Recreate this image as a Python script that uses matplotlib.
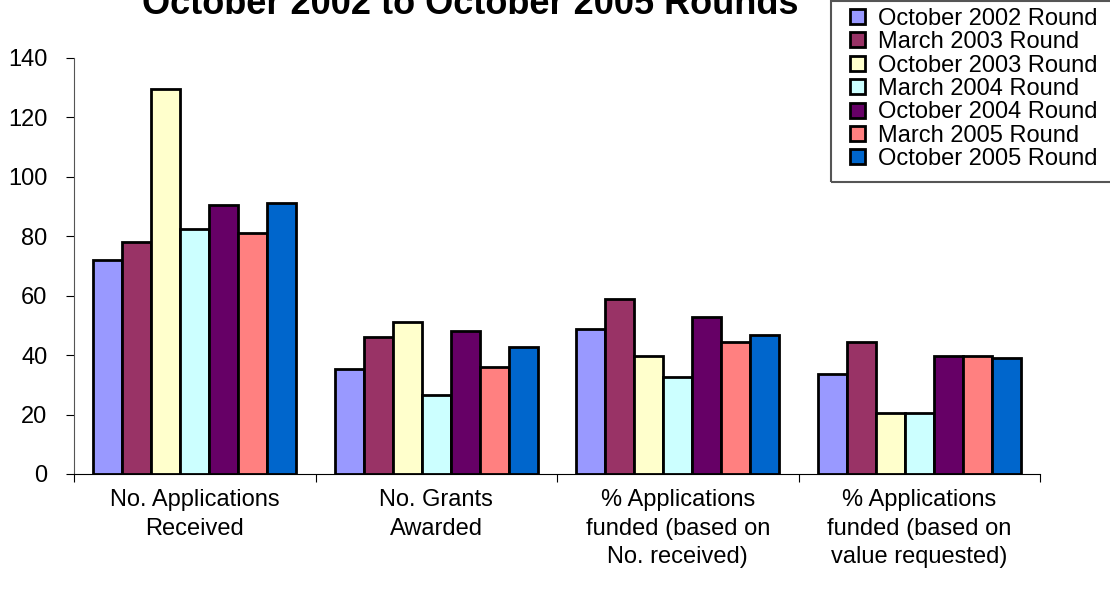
# Grant rounds comparison, grouped bars per measure

import matplotlib
matplotlib.use("Agg")
import matplotlib.pyplot as plt
from matplotlib.patches import Rectangle
import numpy as np

plt.rcParams['font.family'] = ['Liberation Sans', 'DejaVu Sans']

categories = ["No. Applications\nReceived",
              "No. Grants\nAwarded",
              "% Applications\nfunded (based on\nNo. received)",
              "% Applications\nfunded (based on\nvalue requested)"]

rounds = ["October 2002 Round", "March 2003 Round", "October 2003 Round",
          "March 2004 Round", "October 2004 Round", "March 2005 Round",
          "October 2005 Round"]

# values per round, one per category
oct_2002 = [72, 35.2, 48.9, 33.7]
mar_2003 = [78, 46, 58.9, 44.4]
oct_2003 = [129.4, 51.3, 39.7, 20.6]
mar_2004 = [82.6, 26.6, 32.8, 20.6]
oct_2004 = [90.4, 48.2, 52.8, 39.7]
mar_2005 = [81, 35.9, 44.3, 39.7]
oct_2005 = [91.1, 42.9, 46.7, 39.0]

series = [oct_2002, mar_2003, oct_2003, mar_2004, oct_2004, mar_2005, oct_2005]
colors = ['#9999FF', '#993366', '#FFFFCC', '#CCFFFF', '#660066', '#FF8080', '#0066CC']

W, H = 1110, 594
fig = plt.figure(figsize=(W / 100, H / 100), dpi=100)
ax = fig.add_axes([74/W, 1 - 474/H, (1040 - 74)/W, (474 - 58)/H])

x = np.arange(len(categories))
w = 0.12
for i in range(len(series)):
    ax.bar(x + (i - 3) * w, series[i], w, color=colors[i], edgecolor='black',
           linewidth=2, label=rounds[i])

ax.set_xlim(-0.5, 3.5)
ax.set_ylim(0, 140)
ax.set_yticks(range(0, 141, 20))
ax.tick_params(axis='y', labelsize=17, length=6, width=0.8, direction='out', pad=13)

# category separator ticks on the x axis
ax.set_xticks(np.arange(-0.5, 4, 1))
ax.set_xticklabels([])
ax.tick_params(axis='x', length=6, width=0.8, direction='out')
ax.set_xticks(x, minor=True)
ax.set_xticklabels(categories, minor=True, fontsize=17, linespacing=1.38, va='top')
ax.tick_params(axis='x', which='minor', length=0, pad=11)

ax.spines['top'].set_visible(False)
ax.spines['right'].set_visible(False)
ax.spines['left'].set_color('#555555')
ax.spines['bottom'].set_color('black')

fig.text(470/W, 1 - 14/H, "October 2002 to October 2005 Rounds", fontsize=26,
         fontweight='bold', ha='center', va='baseline')

# legend box drawn by hand, the legend itself without frame
fig.patches.append(Rectangle((831/W, 1 - 182/H), (W + 10 - 831)/W, (182 - 1)/H,
                             transform=fig.transFigure, fill=False,
                             edgecolor='#555555', linewidth=1.5))
leg = fig.legend(loc='center left', bbox_to_anchor=(850/W, 1 - 89/H),
                 fontsize=17, frameon=False,
                 handlelength=0.64, handleheight=0.6, handletextpad=0.55,
                 labelspacing=0.06, borderaxespad=0, borderpad=0)
for h in leg.legend_handles:
    h.set_linewidth(2)

fig.savefig("out.png", dpi=100)
